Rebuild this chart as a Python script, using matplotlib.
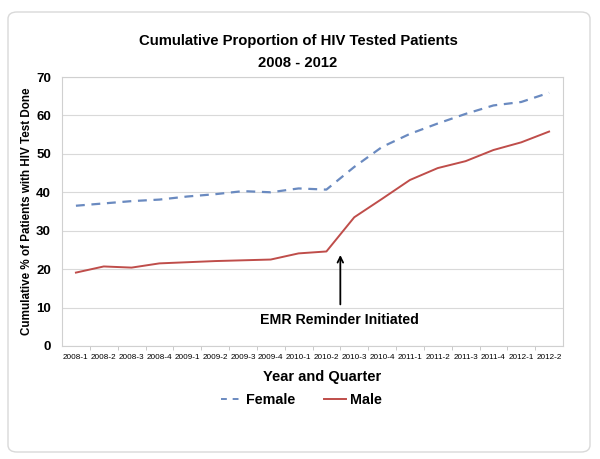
import matplotlib
matplotlib.use('Agg')
import matplotlib.pyplot as plt
import matplotlib.patches as patch
from matplotlib.lines import Line2D

plt.rcParams['font.family'] = ['Liberation Sans', 'DejaVu Sans']

# quarters on the x axis
quarters = ['2008-1', '2008-2', '2008-3', '2008-4', '2009-1', '2009-2',
            '2009-3', '2009-4', '2010-1', '2010-2', '2010-3', '2010-4',
            '2011-1', '2011-2', '2011-3', '2011-4', '2012-1', '2012-2']

# cumulative % tested
female = [36.5, 37.1, 37.7, 38.1, 38.9, 39.5, 40.3, 40.0, 41.0, 40.7,
          46.6, 51.8, 55.2, 57.9, 60.4, 62.6, 63.5, 65.9]
male = [19.1, 20.7, 20.4, 21.5, 21.8, 22.1, 22.3, 22.5, 24.1, 24.6,
        33.5, 38.3, 43.2, 46.3, 48.1, 51.0, 53.0, 55.8]

female_color = '#6a8ac0'
male_color = '#bf4d4a'

fig = plt.figure(figsize=(6.0, 4.59), dpi=100)
W, H = 600, 459

# rounded outer frame
frame = patch.FancyBboxPatch((8 / W, 7 / H), 582 / W, 440 / H,
                             boxstyle='round,pad=0,rounding_size=0.015',
                             transform=fig.transFigure, facecolor='none',
                             edgecolor='#d9d9d9', linewidth=1.0, zorder=-1)
fig.patches.append(frame)

ax = fig.add_axes([62 / W, 1 - 346 / H, 501 / W, 269 / H])
x = list(range(len(quarters)))

ax.plot(x, female, color=female_color, linestyle=(0, (4, 3)), linewidth=1.6)
ax.plot(x, male, color=male_color, linewidth=1.4)

ax.set_xlim(-0.5, len(quarters) - 0.5)
ax.set_ylim(0, 70)
ax.set_yticks(range(0, 71, 10))
ax.set_xticks(x)
ax.set_xticklabels(quarters, fontsize=5.9)
ax.set_xticks([i + 0.5 for i in range(len(quarters) - 1)], minor=True)
ax.tick_params(axis='x', which='major', length=0, pad=6)
ax.tick_params(axis='x', which='minor', length=3, color='#bfbfbf')
ax.tick_params(axis='y', length=0, labelsize=9.5, pad=8)
for lab in ax.get_yticklabels():
    lab.set_fontweight('bold')

ax.grid(axis='y', color='#d9d9d9', linewidth=0.8)
ax.set_axisbelow(True)
for side in ['top', 'right', 'bottom', 'left']:
    ax.spines[side].set_color('#d0d0d0')
    ax.spines[side].set_linewidth(0.8)

ax.set_ylabel('Cumulative % of Patients with HIV Test Done', fontsize=8.4,
              fontweight='bold', labelpad=2)
ax.set_xlabel('Year and Quarter', fontsize=10.5, fontweight='bold')
ax.xaxis.set_label_coords(0.52, -0.09)

# EMR reminder annotation
ax.annotate('', xy=(9.5, 24.4), xytext=(9.5, 10.1),
            arrowprops=dict(arrowstyle='->', color='black', lw=1.3))
ax.text(9.45, 6.7, 'EMR Reminder Initiated', ha='center', va='center',
        fontsize=10.2, fontweight='bold')

fig.text(298 / W, 1 - 41 / H, 'Cumulative Proportion of HIV Tested Patients',
         ha='center', va='center', fontsize=10.7, fontweight='bold')
fig.text(298 / W, 1 - 63 / H, '2008 - 2012', ha='center', va='center',
         fontsize=10.7, fontweight='bold')

handles = [Line2D([], [], color=female_color, linestyle=(0, (3, 3)), linewidth=1.4),
           Line2D([], [], color=male_color, linewidth=1.4)]
fig.legend(handles, ['Female', 'Male'], loc='center', bbox_to_anchor=(0.502, 1 - 400 / H),
           ncol=2, frameon=False, prop={'weight': 'bold', 'size': 10.3},
           handlelength=1.5, handletextpad=0.3, columnspacing=2.0)

fig.savefig('out.png', dpi=100)
